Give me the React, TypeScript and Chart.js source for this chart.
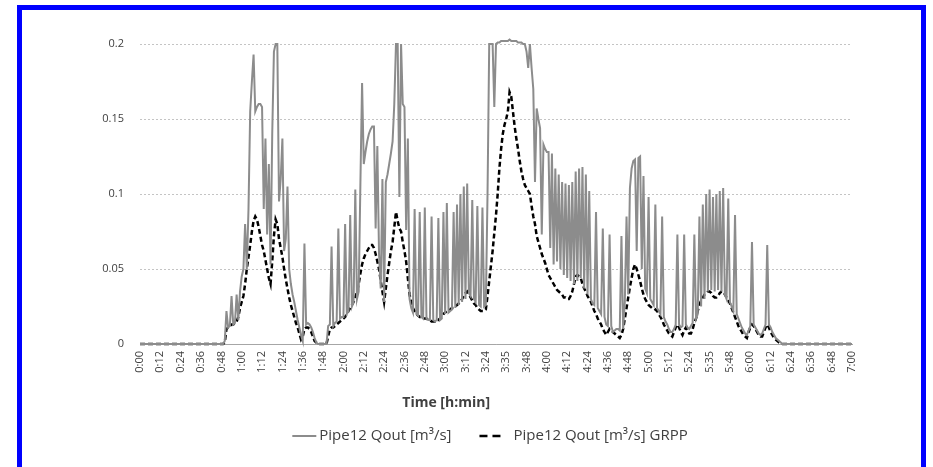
import React, { useEffect, useRef } from "react";
import { Chart, registerables } from "chart.js";

Chart.register(...registerables);

// Tick labels every 12 minutes (as printed on the reference)
const TICK_LABELS = [
  "0:00", "0:12", "0:24", "0:36", "0:48", "1:00", "1:12", "1:24", "1:36", "1:48",
  "2:00", "2:12", "2:24", "2:36", "2:48", "3:00", "3:12", "3:24", "3:35", "3:48",
  "4:00", "4:12", "4:24", "4:36", "4:48", "5:00", "5:12", "5:24", "5:35", "5:48",
  "6:00", "6:12", "6:24", "6:36", "6:48", "7:00",
];

const SERIES_NAMES = ["Pipe12 Qout [m³/s]", "Pipe12 Qout [m³/s] GRPP"];
const X_TITLE = "Time [h:min]";
const Y_TICKS = [0, 0.05, 0.1, 0.15, 0.2];

// Pipe12 Qout, one value per minute, split by hour
const SOLID_H0 = [
  0, 0, 0, 0, 0, 0, 0, 0, 0, 0,
  0, 0, 0, 0, 0, 0, 0, 0, 0, 0,
  0, 0, 0, 0, 0, 0, 0, 0, 0, 0,
  0, 0, 0, 0, 0, 0, 0, 0, 0, 0,
  0, 0, 0, 0, 0, 0, 0, 0, 0, 0,
  0.002, 0.022, 0.011, 0.012, 0.032, 0.013, 0.014, 0.033, 0.016, 0.035,
];
const SOLID_H1 = [
  0.045, 0.05, 0.08, 0.05, 0.09, 0.155, 0.175, 0.193, 0.155, 0.158,
  0.16, 0.16, 0.158, 0.09, 0.137, 0.073, 0.12, 0.053, 0.14, 0.195,
  0.2, 0.2, 0.095, 0.11, 0.137, 0.062, 0.07, 0.105, 0.05, 0.04,
  0.033, 0.028, 0.022, 0.016, 0.011, 0.006, 0.002, 0.067, 0.013, 0.014,
  0.013, 0.011, 0.008, 0.004, 0.001, 0, 0, 0, 0, 0,
  0, 0.012, 0.013, 0.065, 0.012, 0.014, 0.015, 0.077, 0.017, 0.018,
];
const SOLID_H2 = [
  0.018, 0.08, 0.02, 0.022, 0.086, 0.025, 0.028, 0.103, 0.03, 0.035,
  0.106, 0.174, 0.12, 0.128, 0.135, 0.14, 0.143, 0.145, 0.145, 0.077,
  0.132, 0.06, 0.037, 0.11, 0.028, 0.108, 0.113, 0.12, 0.127, 0.135,
  0.16, 0.2, 0.2, 0.098, 0.2, 0.16, 0.158, 0.076, 0.137, 0.03,
  0.024, 0.021, 0.09, 0.02, 0.019, 0.088, 0.018, 0.017, 0.091, 0.017,
  0.016, 0.016, 0.085, 0.016, 0.015, 0.016, 0.084, 0.016, 0.017, 0.088,
];
const SOLID_H3 = [
  0.02, 0.094, 0.021, 0.022, 0.023, 0.088, 0.024, 0.093, 0.026, 0.1,
  0.028, 0.105, 0.03, 0.107, 0.034, 0.032, 0.096, 0.03, 0.028, 0.092,
  0.026, 0.025, 0.091, 0.025, 0.026, 0.1, 0.2, 0.2, 0.2, 0.158,
  0.2, 0.201, 0.201, 0.202, 0.202, 0.202, 0.202, 0.202, 0.203, 0.202,
  0.202, 0.202, 0.202, 0.201, 0.201, 0.201, 0.2, 0.2, 0.195, 0.184,
  0.2, 0.184, 0.17, 0.108, 0.157, 0.15, 0.144, 0.073, 0.133, 0.13,
];
const SOLID_H4 = [
  0.128, 0.128, 0.064, 0.127, 0.053, 0.117, 0.055, 0.113, 0.05, 0.108,
  0.046, 0.107, 0.044, 0.106, 0.042, 0.108, 0.04, 0.115, 0.042, 0.117,
  0.044, 0.118, 0.037, 0.113, 0.033, 0.102, 0.03, 0.027, 0.026, 0.088,
  0.024, 0.022, 0.02, 0.077, 0.018, 0.013, 0.012, 0.073, 0.012, 0.008,
  0.009, 0.01, 0.01, 0.009, 0.072, 0.01, 0.028, 0.085, 0.033, 0.104,
  0.117, 0.122, 0.123, 0.062, 0.124, 0.125, 0.05, 0.112, 0.037, 0.034,
];
const SOLID_H5 = [
  0.098, 0.03, 0.028, 0.026, 0.093, 0.024, 0.022, 0.02, 0.085, 0.018,
  0.015, 0.013, 0.01, 0.008, 0.008, 0.01, 0.013, 0.073, 0.013, 0.011,
  0.012, 0.073, 0.013, 0.011, 0.01, 0.012, 0.014, 0.073, 0.017, 0.02,
  0.085, 0.025, 0.093, 0.03, 0.1, 0.035, 0.103, 0.036, 0.098, 0.035,
  0.1, 0.036, 0.102, 0.035, 0.104, 0.033, 0.03, 0.097, 0.028, 0.025,
  0.022, 0.086, 0.02, 0.017, 0.014, 0.011, 0.009, 0.007, 0.006, 0.009,
];
const SOLID_H6 = [
  0.012, 0.068, 0.013, 0.011, 0.009, 0.007, 0.006, 0.007, 0.01, 0.013,
  0.066, 0.013, 0.011, 0.008, 0.006, 0.004, 0.003, 0.002, 0.001, 0,
  0, 0, 0, 0, 0, 0, 0, 0, 0, 0,
  0, 0, 0, 0, 0, 0, 0, 0, 0, 0,
  0, 0, 0, 0, 0, 0, 0, 0, 0, 0,
  0, 0, 0, 0, 0, 0, 0, 0, 0, 0,
  0,
];

// Pipe12 Qout GRPP, one value per minute, split by hour
const DASHED_H0 = [
  0, 0, 0, 0, 0, 0, 0, 0, 0, 0,
  0, 0, 0, 0, 0, 0, 0, 0, 0, 0,
  0, 0, 0, 0, 0, 0, 0, 0, 0, 0,
  0, 0, 0, 0, 0, 0, 0, 0, 0, 0,
  0, 0, 0, 0, 0, 0, 0, 0, 0, 0,
  0.001, 0.01, 0.011, 0.012, 0.013, 0.013, 0.014, 0.015, 0.018, 0.024,
];
const DASHED_H1 = [
  0.028, 0.032, 0.04, 0.05, 0.058, 0.066, 0.075, 0.082, 0.085, 0.083,
  0.078, 0.072, 0.066, 0.062, 0.056, 0.05, 0.044, 0.04, 0.055, 0.072,
  0.083, 0.08, 0.07, 0.064, 0.058, 0.05, 0.043, 0.037, 0.031, 0.026,
  0.022, 0.018, 0.014, 0.011, 0.007, 0.003, 0.005, 0.01, 0.011, 0.011,
  0.01, 0.008, 0.005, 0.002, 0.001, 0, 0, 0, 0, 0,
  0, 0.005, 0.01, 0.011, 0.011, 0.012, 0.013, 0.014, 0.015, 0.016,
];
const DASHED_H2 = [
  0.017, 0.018, 0.02, 0.022, 0.024, 0.026, 0.028, 0.031, 0.035, 0.04,
  0.047, 0.053, 0.057, 0.06, 0.062, 0.064, 0.066, 0.066, 0.064, 0.06,
  0.055, 0.05, 0.042, 0.035, 0.028, 0.037, 0.046, 0.054, 0.062, 0.068,
  0.078, 0.088, 0.082, 0.077, 0.075, 0.068, 0.062, 0.055, 0.044, 0.033,
  0.028, 0.024, 0.022, 0.02, 0.019, 0.018, 0.018, 0.017, 0.017, 0.017,
  0.016, 0.016, 0.015, 0.015, 0.015, 0.016, 0.016, 0.017, 0.018, 0.02,
];
const DASHED_H3 = [
  0.021, 0.022, 0.022, 0.023, 0.024, 0.024, 0.025, 0.026, 0.027, 0.028,
  0.03, 0.032, 0.034, 0.035, 0.033, 0.031, 0.029, 0.027, 0.026, 0.024,
  0.023, 0.022, 0.022, 0.022, 0.023, 0.032, 0.042, 0.052, 0.062, 0.074,
  0.086, 0.1, 0.117, 0.13, 0.14, 0.146, 0.15, 0.155, 0.168, 0.165,
  0.155, 0.145, 0.137, 0.13, 0.122, 0.115, 0.11, 0.106, 0.104, 0.102,
  0.1, 0.092, 0.085, 0.08, 0.072, 0.068, 0.064, 0.06, 0.057, 0.054,
];
const DASHED_H4 = [
  0.05, 0.046, 0.044, 0.042, 0.04, 0.038, 0.036, 0.035, 0.034, 0.033,
  0.031, 0.031, 0.03, 0.03, 0.032, 0.035, 0.04, 0.045, 0.046, 0.045,
  0.044, 0.04, 0.037, 0.035, 0.032, 0.03, 0.028, 0.025, 0.022, 0.02,
  0.017, 0.015, 0.013, 0.01, 0.008, 0.006, 0.008, 0.01, 0.009, 0.008,
  0.007, 0.006, 0.005, 0.004, 0.006, 0.01, 0.017, 0.024, 0.031, 0.038,
  0.044, 0.05, 0.053, 0.05, 0.046, 0.042, 0.037, 0.033, 0.03, 0.028,
];
const DASHED_H5 = [
  0.026, 0.025, 0.024, 0.024, 0.023, 0.022, 0.02, 0.018, 0.016, 0.013,
  0.011, 0.009, 0.007, 0.006, 0.005, 0.008, 0.011, 0.013, 0.011, 0.008,
  0.006, 0.009, 0.011, 0.009, 0.007, 0.007, 0.01, 0.014, 0.017, 0.022,
  0.026, 0.029, 0.031, 0.033, 0.034, 0.035, 0.035, 0.034, 0.032, 0.031,
  0.031, 0.032, 0.034, 0.035, 0.035, 0.033, 0.031, 0.029, 0.027, 0.024,
  0.021, 0.018, 0.015, 0.012, 0.01, 0.008, 0.006, 0.005, 0.004, 0.008,
];
const DASHED_H6 = [
  0.011, 0.013, 0.012, 0.01, 0.008, 0.006, 0.005, 0.005, 0.008, 0.011,
  0.013, 0.011, 0.008, 0.006, 0.004, 0.003, 0.002, 0.001, 0.0005, 0,
  0, 0, 0, 0, 0, 0, 0, 0, 0, 0,
  0, 0, 0, 0, 0, 0, 0, 0, 0, 0,
  0, 0, 0, 0, 0, 0, 0, 0, 0, 0,
  0, 0, 0, 0, 0, 0, 0, 0, 0, 0,
  0,
];

const SOLID = [...SOLID_H0, ...SOLID_H1, ...SOLID_H2, ...SOLID_H3, ...SOLID_H4, ...SOLID_H5, ...SOLID_H6];
const DASHED = [...DASHED_H0, ...DASHED_H1, ...DASHED_H2, ...DASHED_H3, ...DASHED_H4, ...DASHED_H5, ...DASHED_H6];

const FONT = "'Open Sans', 'Noto Sans', 'Liberation Sans', sans-serif";
const TEXT = "#404040";
const SOLID_COLOR = "#8c8c8c";
const DASH_COLOR = "#000000";
const DASH = [5, 3];

// Axis title + legend drawn in the positions used by the original figure
const annotationsPlugin = {
  id: "figureText",
  afterDraw(chart: any) {
    const { ctx, chartArea } = chart;
    const w = chartArea.right - chartArea.left;
    ctx.save();
    // x-axis title
    ctx.font = `bold 14px ${FONT}`;
    ctx.fillStyle = TEXT;
    ctx.textAlign = "center";
    ctx.textBaseline = "middle";
    ctx.fillText(X_TITLE, chartArea.left + w * 0.43, chartArea.bottom + 59);

    // legend
    ctx.font = `15px ${FONT}`;
    const sample = 24;
    const t1 = ctx.measureText(SERIES_NAMES[0]).width;
    const t2 = ctx.measureText(SERIES_NAMES[1]).width;
    const g1 = 3, g2 = 28, g3 = 10;
    const total = sample + g1 + t1 + g2 + sample + g3 + t2;
    let x = chartArea.left + w * 0.4916 - total / 2;
    const y = chartArea.bottom + 92;
    ctx.textAlign = "left";
    ctx.lineWidth = 2;
    ctx.strokeStyle = SOLID_COLOR;
    ctx.setLineDash([]);
    ctx.beginPath();
    ctx.moveTo(x, y);
    ctx.lineTo(x + sample, y);
    ctx.stroke();
    x += sample + g1;
    ctx.fillText(SERIES_NAMES[0], x, y);
    x += t1 + g2;
    ctx.lineWidth = 2.5;
    ctx.strokeStyle = DASH_COLOR;
    ctx.setLineDash([8, 5]);
    ctx.beginPath();
    ctx.moveTo(x, y);
    ctx.lineTo(x + sample - 3, y);
    ctx.stroke();
    ctx.setLineDash([]);
    x += sample + g3;
    ctx.fillText(SERIES_NAMES[1], x, y);
    ctx.restore();
  },
};

export default function App() {
  const ref = useRef<HTMLCanvasElement | null>(null);

  useEffect(() => {
    if (!ref.current) return;
    const chart = new Chart(ref.current, {
      type: "line",
      data: {
        datasets: [
          {
            label: SERIES_NAMES[0],
            data: SOLID.map((v, i) => ({ x: i, y: v })),
            borderColor: SOLID_COLOR,
            backgroundColor: SOLID_COLOR,
            borderWidth: 2,
            pointRadius: 0,
            tension: 0,
            clip: 6,
          },
          {
            label: SERIES_NAMES[1],
            data: DASHED.map((v, i) => ({ x: i, y: v })),
            borderColor: DASH_COLOR,
            backgroundColor: DASH_COLOR,
            borderWidth: 2.5,
            borderDash: DASH,
            pointRadius: 0,
            tension: 0,
            clip: 6,
          },
        ],
      },
      options: {
        responsive: false,
        animation: false,
        devicePixelRatio: 1,
        layout: { padding: { left: 0, right: 81, top: 44, bottom: 48 } },
        plugins: {
          legend: { display: false },
          tooltip: { enabled: false },
        },
        scales: {
          x: {
            type: "linear",
            min: 0,
            max: 420,
            offset: false,
            grid: { display: false, drawTicks: false },
            border: { display: true, color: "#a6a6a6", width: 1 },
            ticks: {
              stepSize: 12,
              autoSkip: false,
              maxRotation: 90,
              minRotation: 90,
              padding: 7,
              color: TEXT,
              font: { family: FONT, size: 11 },
              callback: (v: any) => TICK_LABELS[Math.round(Number(v) / 12)] ?? "",
            },
            afterFit: (scale: any) => {
              scale.height = 75;
            },
          },
          y: {
            min: 0,
            max: 0.2,
            afterBuildTicks: (scale: any) => {
              scale.ticks = Y_TICKS.map((v) => ({ value: v }));
            },
            grid: { color: "#c4c4c4", lineWidth: 1, drawTicks: false },
            border: { display: false, dash: [2, 2] },
            ticks: {
              padding: 16,
              color: TEXT,
              font: { family: FONT, size: 11 },
              callback: (v: any) => String(Number(v)),
            },
            afterFit: (scale: any) => {
              scale.width = 140;
            },
          },
        },
      },
      plugins: [annotationsPlugin],
    });
    return () => chart.destroy();
  }, []);

  return (
    <div
      style={{
        position: "fixed",
        left: 0,
        top: 0,
        width: 933,
        height: 467,
        background: "#ffffff",
        overflow: "hidden",
      }}
    >
      <canvas ref={ref} width={933} height={467} style={{ display: "block", width: 933, height: 467 }} />
      <div
        style={{
          position: "absolute",
          left: 17,
          top: 5,
          width: 909,
          height: 500,
          boxSizing: "border-box",
          border: "5px solid #0000ff",
          borderBottom: "none",
          pointerEvents: "none",
        }}
      />
    </div>
  );
}
